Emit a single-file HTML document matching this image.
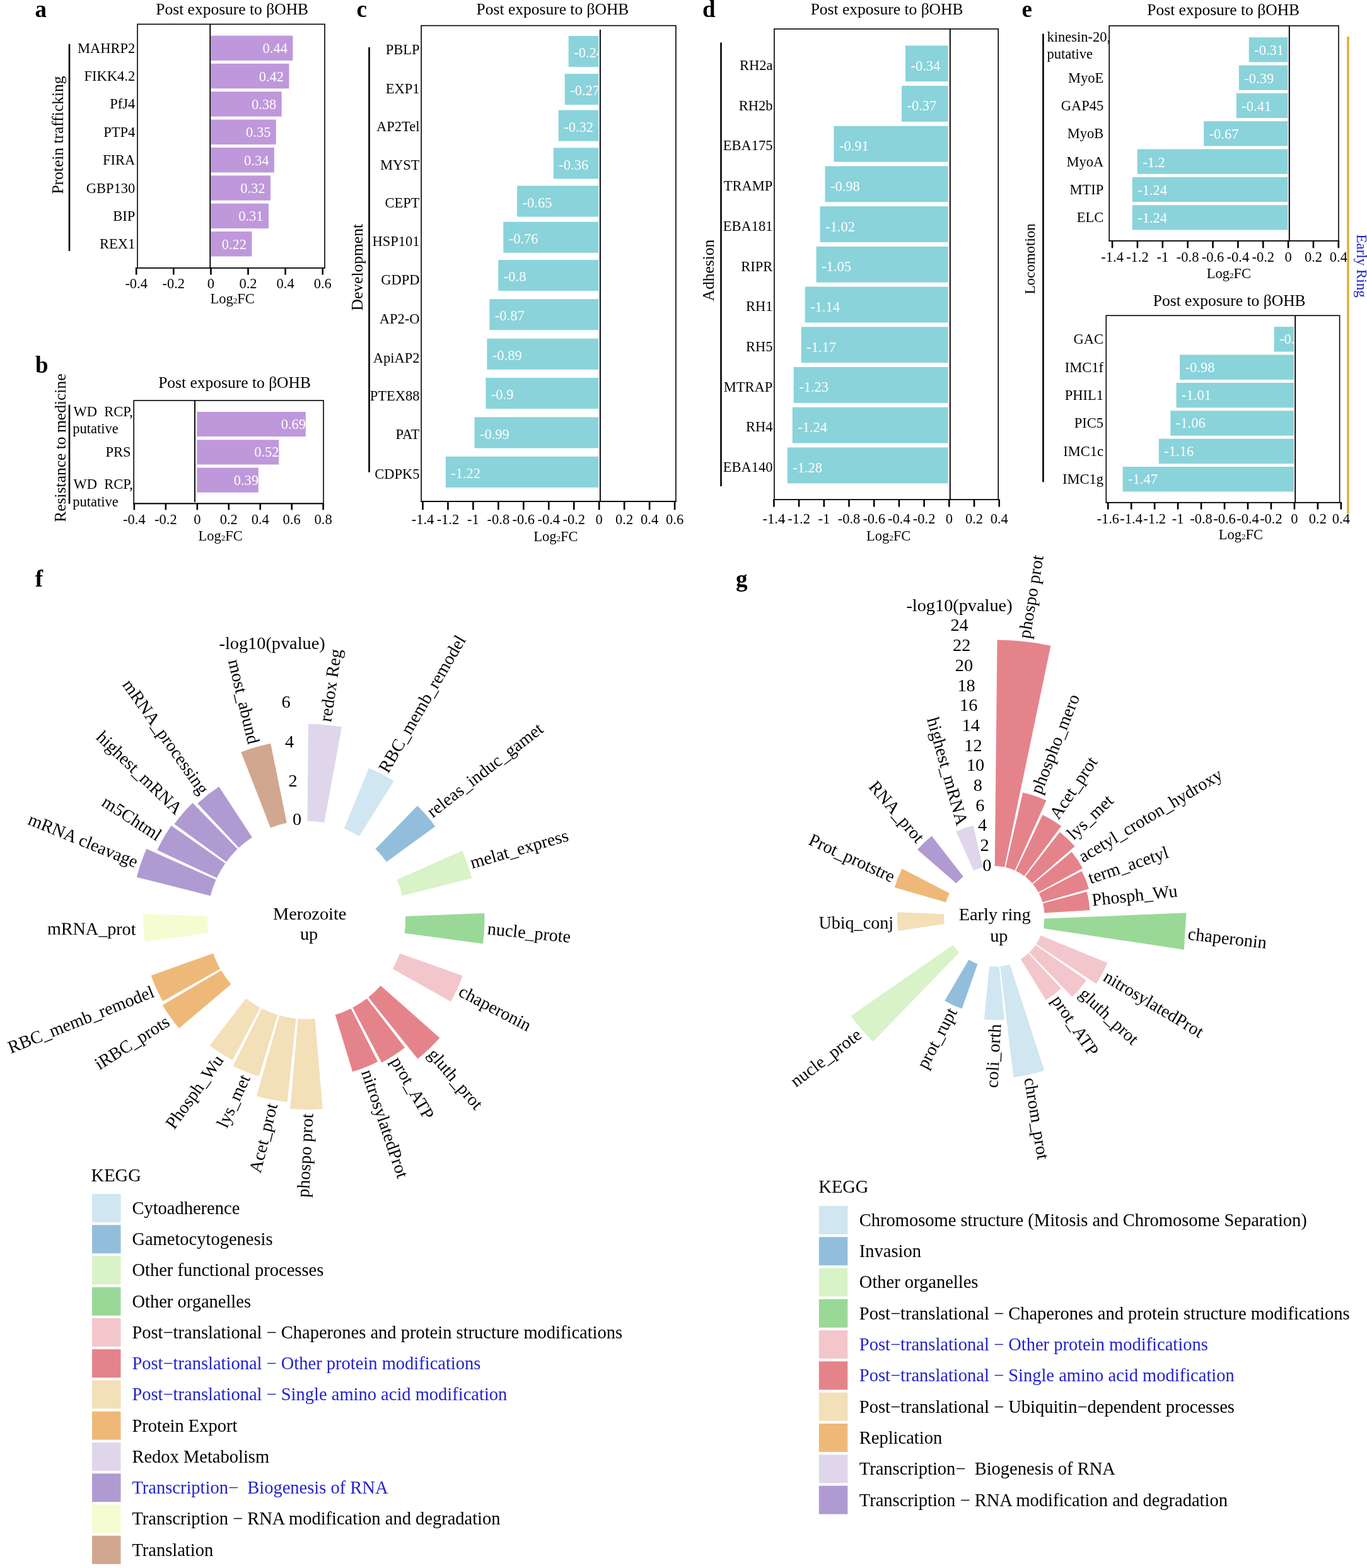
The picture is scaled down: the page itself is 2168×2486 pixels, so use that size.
<!DOCTYPE html>
<html><head><meta charset="utf-8"><title>Figure</title>
<style>html,body{margin:0;padding:0;background:#fff;}svg{display:block;}text{font-family:"Liberation Serif","Times New Roman",serif;}</style>
</head><body>
<svg width="2168" height="2486" viewBox="0 0 2168 2486">
<rect x="334.5" y="56.5" width="129.89" height="39.5" fill="#BF98DB"/>
<rect x="334.5" y="100.86" width="123.98" height="39.5" fill="#BF98DB"/>
<rect x="334.5" y="145.22" width="112.18" height="39.5" fill="#BF98DB"/>
<rect x="334.5" y="189.58" width="103.32" height="39.5" fill="#BF98DB"/>
<rect x="334.5" y="233.94" width="100.37" height="39.5" fill="#BF98DB"/>
<rect x="334.5" y="278.3" width="94.46" height="39.5" fill="#BF98DB"/>
<rect x="334.5" y="322.66" width="91.51" height="39.5" fill="#BF98DB"/>
<rect x="334.5" y="367.02" width="64.94" height="39.5" fill="#BF98DB"/>
<text x="455.99" y="84.3" font-size="22.5" text-anchor="end" fill="#fff">0.44</text>
<text x="450.08" y="128.66" font-size="22.5" text-anchor="end" fill="#fff">0.42</text>
<text x="438.28" y="173.02" font-size="22.5" text-anchor="end" fill="#fff">0.38</text>
<text x="429.42" y="217.38" font-size="22.5" text-anchor="end" fill="#fff">0.35</text>
<text x="426.47" y="261.74" font-size="22.5" text-anchor="end" fill="#fff">0.34</text>
<text x="420.56" y="306.1" font-size="22.5" text-anchor="end" fill="#fff">0.32</text>
<text x="417.61" y="350.46" font-size="22.5" text-anchor="end" fill="#fff">0.31</text>
<text x="391.04" y="394.82" font-size="22.5" text-anchor="end" fill="#fff">0.22</text>
<rect x="218" y="38.4" width="297" height="386.4" fill="none" stroke="#000" stroke-width="1.6"/>
<line x1="333.3" y1="38.4" x2="333.3" y2="424.8" stroke="#000" stroke-width="1.9"/>
<line x1="214.9" y1="424.8" x2="515.8" y2="424.8" stroke="#000" stroke-width="1.6"/>
<line x1="216.2" y1="424.8" x2="216.2" y2="435.6" stroke="#000" stroke-width="2.6"/>
<text x="216.2" y="457.4" font-size="22.5" text-anchor="middle">-0.4</text>
<line x1="275.3" y1="424.8" x2="275.3" y2="435.6" stroke="#000" stroke-width="2.6"/>
<text x="275.3" y="457.4" font-size="22.5" text-anchor="middle">-0.2</text>
<line x1="334.4" y1="424.8" x2="334.4" y2="435.6" stroke="#000" stroke-width="2.6"/>
<text x="334.4" y="457.4" font-size="22.5" text-anchor="middle">0</text>
<line x1="393.5" y1="424.8" x2="393.5" y2="435.6" stroke="#000" stroke-width="2.6"/>
<text x="393.5" y="457.4" font-size="22.5" text-anchor="middle">0.2</text>
<line x1="452.6" y1="424.8" x2="452.6" y2="435.6" stroke="#000" stroke-width="2.6"/>
<text x="452.6" y="457.4" font-size="22.5" text-anchor="middle">0.4</text>
<line x1="511.7" y1="424.8" x2="511.7" y2="435.6" stroke="#000" stroke-width="2.6"/>
<text x="511.7" y="457.4" font-size="22.5" text-anchor="middle">0.6</text>
<text x="333.4" y="481.3" font-size="22.5">Log<tspan font-size="13">2</tspan>FC</text>
<text x="214.2" y="83.7" font-size="22.5" text-anchor="end">MAHRP2</text>
<text x="214.2" y="128.06" font-size="22.5" text-anchor="end">FIKK4.2</text>
<text x="214.2" y="172.42" font-size="22.5" text-anchor="end">PfJ4</text>
<text x="214.2" y="216.78" font-size="22.5" text-anchor="end">PTP4</text>
<text x="214.2" y="261.14" font-size="22.5" text-anchor="end">FIRA</text>
<text x="214.2" y="305.5" font-size="22.5" text-anchor="end">GBP130</text>
<text x="214.2" y="349.86" font-size="22.5" text-anchor="end">BIP</text>
<text x="214.2" y="394.22" font-size="22.5" text-anchor="end">REX1</text>
<text x="247.3" y="23.2" font-size="25.5">Post exposure to βOHB</text>
<text x="55.5" y="26.5" font-size="37" font-weight="bold">a</text>
<line x1="110" y1="69.7" x2="110" y2="397.9" stroke="#000" stroke-width="2.6"/>
<text x="99.5" y="214" font-size="25.5" text-anchor="middle" transform="rotate(-90 99.5 214)">Protein trafficking</text>
<rect x="312.3" y="652.9" width="172.5" height="39.2" fill="#BF98DB"/>
<rect x="312.3" y="697.3" width="130" height="39.2" fill="#BF98DB"/>
<rect x="312.3" y="741.5" width="97.5" height="39.2" fill="#BF98DB"/>
<text x="485.1" y="679.95" font-size="22.5" text-anchor="end" fill="#fff">0.69</text>
<text x="442.6" y="724.35" font-size="22.5" text-anchor="end" fill="#fff">0.52</text>
<text x="410.1" y="768.55" font-size="22.5" text-anchor="end" fill="#fff">0.39</text>
<rect x="212.2" y="635" width="300.8" height="163.4" fill="none" stroke="#000" stroke-width="1.6"/>
<line x1="309" y1="635" x2="309" y2="796" stroke="#000" stroke-width="1.9"/>
<line x1="211.4" y1="798.4" x2="513.94" y2="798.4" stroke="#000" stroke-width="1.6"/>
<line x1="212.88" y1="798.4" x2="212.88" y2="808.4" stroke="#000" stroke-width="2.6"/>
<text x="212.88" y="830.8" font-size="22.5" text-anchor="middle">-0.4</text>
<line x1="262.84" y1="798.4" x2="262.84" y2="808.4" stroke="#000" stroke-width="2.6"/>
<text x="262.84" y="830.8" font-size="22.5" text-anchor="middle">-0.2</text>
<line x1="312.8" y1="798.4" x2="312.8" y2="808.4" stroke="#000" stroke-width="2.6"/>
<text x="312.8" y="830.8" font-size="22.5" text-anchor="middle">0</text>
<line x1="362.76" y1="798.4" x2="362.76" y2="808.4" stroke="#000" stroke-width="2.6"/>
<text x="362.76" y="830.8" font-size="22.5" text-anchor="middle">0.2</text>
<line x1="412.72" y1="798.4" x2="412.72" y2="808.4" stroke="#000" stroke-width="2.6"/>
<text x="412.72" y="830.8" font-size="22.5" text-anchor="middle">0.4</text>
<line x1="462.68" y1="798.4" x2="462.68" y2="808.4" stroke="#000" stroke-width="2.6"/>
<text x="462.68" y="830.8" font-size="22.5" text-anchor="middle">0.6</text>
<line x1="512.64" y1="798.4" x2="512.64" y2="808.4" stroke="#000" stroke-width="2.6"/>
<text x="512.64" y="830.8" font-size="22.5" text-anchor="middle">0.8</text>
<text x="314.6" y="857.2" font-size="22.5">Log<tspan font-size="13">2</tspan>FC</text>
<text x="207.6" y="724.35" font-size="22.5" text-anchor="end">PRS</text>
<text x="251.2" y="615.2" font-size="25.5">Post exposure to βOHB</text>
<text x="56" y="591" font-size="37" font-weight="bold">b</text>
<text x="116.5" y="659.6" font-size="22.5">WD&#160;&#160;RCP,</text>
<text x="115.2" y="687" font-size="22.5">putative</text>
<text x="116.5" y="775.1" font-size="22.5">WD&#160;&#160;RCP,</text>
<text x="115.2" y="802.6" font-size="22.5">putative</text>
<line x1="110" y1="641.6" x2="110" y2="798.7" stroke="#000" stroke-width="2.6"/>
<text x="104" y="710.1" font-size="25.5" text-anchor="middle" transform="rotate(-90 104 710.1)">Resistance to medicine</text>
<rect x="901.66" y="57" width="47.74" height="49.1" fill="#8AD3DB"/>
<rect x="895.7" y="117" width="53.7" height="49.1" fill="#8AD3DB"/>
<rect x="885.75" y="174.6" width="63.65" height="49.1" fill="#8AD3DB"/>
<rect x="877.8" y="234.4" width="71.6" height="49.1" fill="#8AD3DB"/>
<rect x="820.12" y="294.5" width="129.28" height="49.1" fill="#8AD3DB"/>
<rect x="798.24" y="351.7" width="151.16" height="49.1" fill="#8AD3DB"/>
<rect x="790.28" y="412.1" width="159.12" height="49.1" fill="#8AD3DB"/>
<rect x="776.36" y="474.2" width="173.04" height="49.1" fill="#8AD3DB"/>
<rect x="772.38" y="536.8" width="177.02" height="49.1" fill="#8AD3DB"/>
<rect x="770.39" y="598.9" width="179.01" height="49.1" fill="#8AD3DB"/>
<rect x="752.49" y="661.4" width="196.91" height="49.1" fill="#8AD3DB"/>
<rect x="706.74" y="723.8" width="242.66" height="49.1" fill="#8AD3DB"/>
<text x="910.16" y="91.2" font-size="22.5" fill="#fff">-0.24</text>
<text x="904.2" y="151.2" font-size="22.5" fill="#fff">-0.27</text>
<text x="894.25" y="208.8" font-size="22.5" fill="#fff">-0.32</text>
<text x="886.3" y="268.6" font-size="22.5" fill="#fff">-0.36</text>
<text x="828.62" y="328.7" font-size="22.5" fill="#fff">-0.65</text>
<text x="806.74" y="385.9" font-size="22.5" fill="#fff">-0.76</text>
<text x="798.78" y="446.3" font-size="22.5" fill="#fff">-0.8</text>
<text x="784.86" y="508.4" font-size="22.5" fill="#fff">-0.87</text>
<text x="780.88" y="571" font-size="22.5" fill="#fff">-0.89</text>
<text x="778.89" y="633.1" font-size="22.5" fill="#fff">-0.9</text>
<text x="760.99" y="695.6" font-size="22.5" fill="#fff">-0.99</text>
<text x="715.24" y="758" font-size="22.5" fill="#fff">-1.22</text>
<rect x="668.1" y="40.6" width="403.8" height="754.4" fill="none" stroke="#000" stroke-width="1.6"/>
<line x1="951.9" y1="46.9" x2="951.9" y2="795" stroke="#000" stroke-width="1.9"/>
<line x1="667.3" y1="795" x2="1072.7" y2="795" stroke="#000" stroke-width="1.6"/>
<line x1="670.48" y1="795" x2="670.48" y2="808.3" stroke="#000" stroke-width="2.6"/>
<text x="670.48" y="830.6" font-size="22.5" text-anchor="middle">-1.4</text>
<line x1="710.44" y1="795" x2="710.44" y2="808.3" stroke="#000" stroke-width="2.6"/>
<text x="710.44" y="830.6" font-size="22.5" text-anchor="middle">-1.2</text>
<line x1="750.4" y1="795" x2="750.4" y2="808.3" stroke="#000" stroke-width="2.6"/>
<text x="750.4" y="830.6" font-size="22.5" text-anchor="middle">-1</text>
<line x1="790.36" y1="795" x2="790.36" y2="808.3" stroke="#000" stroke-width="2.6"/>
<text x="790.36" y="830.6" font-size="22.5" text-anchor="middle">-0.8</text>
<line x1="830.32" y1="795" x2="830.32" y2="808.3" stroke="#000" stroke-width="2.6"/>
<text x="830.32" y="830.6" font-size="22.5" text-anchor="middle">-0.6</text>
<line x1="870.28" y1="795" x2="870.28" y2="808.3" stroke="#000" stroke-width="2.6"/>
<text x="870.28" y="830.6" font-size="22.5" text-anchor="middle">-0.4</text>
<line x1="910.24" y1="795" x2="910.24" y2="808.3" stroke="#000" stroke-width="2.6"/>
<text x="910.24" y="830.6" font-size="22.5" text-anchor="middle">-0.2</text>
<line x1="950.2" y1="795" x2="950.2" y2="808.3" stroke="#000" stroke-width="2.6"/>
<text x="950.2" y="830.6" font-size="22.5" text-anchor="middle">0</text>
<line x1="990.16" y1="795" x2="990.16" y2="808.3" stroke="#000" stroke-width="2.6"/>
<text x="990.16" y="830.6" font-size="22.5" text-anchor="middle">0.2</text>
<line x1="1030.12" y1="795" x2="1030.12" y2="808.3" stroke="#000" stroke-width="2.6"/>
<text x="1030.12" y="830.6" font-size="22.5" text-anchor="middle">0.4</text>
<line x1="1070.08" y1="795" x2="1070.08" y2="808.3" stroke="#000" stroke-width="2.6"/>
<text x="1070.08" y="830.6" font-size="22.5" text-anchor="middle">0.6</text>
<text x="846.3" y="857.8" font-size="22.5">Log<tspan font-size="13">2</tspan>FC</text>
<text x="665.5" y="85.55" font-size="22.5" text-anchor="end">PBLP</text>
<text x="665.5" y="147.65" font-size="22.5" text-anchor="end">EXP1</text>
<text x="665.5" y="208.35" font-size="22.5" text-anchor="end">AP2Tel</text>
<text x="665.5" y="269.05" font-size="22.5" text-anchor="end">MYST</text>
<text x="665.5" y="329.25" font-size="22.5" text-anchor="end">CEPT</text>
<text x="665.5" y="389.85" font-size="22.5" text-anchor="end">HSP101</text>
<text x="665.5" y="451.45" font-size="22.5" text-anchor="end">GDPD</text>
<text x="665.5" y="513.45" font-size="22.5" text-anchor="end">AP2-O</text>
<text x="665.5" y="574.95" font-size="22.5" text-anchor="end">ApiAP2</text>
<text x="665.5" y="635.45" font-size="22.5" text-anchor="end">PTEX88</text>
<text x="665.5" y="695.85" font-size="22.5" text-anchor="end">PAT</text>
<text x="665.5" y="758.95" font-size="22.5" text-anchor="end">CDPK5</text>
<text x="755.6" y="23.2" font-size="25.5">Post exposure to βOHB</text>
<text x="565.6" y="26.5" font-size="37" font-weight="bold">c</text>
<line x1="585.5" y1="75" x2="585.5" y2="748.8" stroke="#000" stroke-width="2.6"/>
<text x="574.7" y="423.7" font-size="25.5" text-anchor="middle" transform="rotate(-90 574.7 423.7)">Development</text>
<rect x="1435.91" y="72.3" width="67.69" height="56.9" fill="#8AD3DB"/>
<rect x="1429.93" y="136.01" width="73.67" height="56.9" fill="#8AD3DB"/>
<rect x="1322.42" y="199.72" width="181.18" height="56.9" fill="#8AD3DB"/>
<rect x="1308.48" y="263.43" width="195.12" height="56.9" fill="#8AD3DB"/>
<rect x="1300.52" y="327.14" width="203.08" height="56.9" fill="#8AD3DB"/>
<rect x="1294.54" y="390.85" width="209.06" height="56.9" fill="#8AD3DB"/>
<rect x="1276.63" y="454.56" width="226.97" height="56.9" fill="#8AD3DB"/>
<rect x="1270.65" y="518.27" width="232.95" height="56.9" fill="#8AD3DB"/>
<rect x="1258.71" y="581.98" width="244.89" height="56.9" fill="#8AD3DB"/>
<rect x="1256.72" y="645.69" width="246.88" height="56.9" fill="#8AD3DB"/>
<rect x="1248.75" y="709.4" width="254.85" height="56.9" fill="#8AD3DB"/>
<text x="1444.41" y="111.7" font-size="22.5" fill="#fff">-0.34</text>
<text x="1438.43" y="175.41" font-size="22.5" fill="#fff">-0.37</text>
<text x="1330.92" y="239.12" font-size="22.5" fill="#fff">-0.91</text>
<text x="1316.98" y="302.83" font-size="22.5" fill="#fff">-0.98</text>
<text x="1309.02" y="366.54" font-size="22.5" fill="#fff">-1.02</text>
<text x="1303.04" y="430.25" font-size="22.5" fill="#fff">-1.05</text>
<text x="1285.13" y="493.96" font-size="22.5" fill="#fff">-1.14</text>
<text x="1279.15" y="557.67" font-size="22.5" fill="#fff">-1.17</text>
<text x="1267.21" y="621.38" font-size="22.5" fill="#fff">-1.23</text>
<text x="1265.22" y="685.09" font-size="22.5" fill="#fff">-1.24</text>
<text x="1257.25" y="748.8" font-size="22.5" fill="#fff">-1.28</text>
<rect x="1227.9" y="45.9" width="355.3" height="746.3" fill="none" stroke="#000" stroke-width="1.6"/>
<line x1="1506.8" y1="45.9" x2="1506.8" y2="792.2" stroke="#000" stroke-width="1.9"/>
<line x1="1226.1" y1="792.2" x2="1586" y2="792.2" stroke="#000" stroke-width="1.6"/>
<line x1="1227.4" y1="792.2" x2="1227.4" y2="803.6" stroke="#000" stroke-width="2.6"/>
<text x="1227.4" y="829.7" font-size="22.5" text-anchor="middle">-1.4</text>
<line x1="1267.1" y1="792.2" x2="1267.1" y2="803.6" stroke="#000" stroke-width="2.6"/>
<text x="1267.1" y="829.7" font-size="22.5" text-anchor="middle">-1.2</text>
<line x1="1306.8" y1="792.2" x2="1306.8" y2="803.6" stroke="#000" stroke-width="2.6"/>
<text x="1306.8" y="829.7" font-size="22.5" text-anchor="middle">-1</text>
<line x1="1346.5" y1="792.2" x2="1346.5" y2="803.6" stroke="#000" stroke-width="2.6"/>
<text x="1346.5" y="829.7" font-size="22.5" text-anchor="middle">-0.8</text>
<line x1="1386.2" y1="792.2" x2="1386.2" y2="803.6" stroke="#000" stroke-width="2.6"/>
<text x="1386.2" y="829.7" font-size="22.5" text-anchor="middle">-0.6</text>
<line x1="1425.9" y1="792.2" x2="1425.9" y2="803.6" stroke="#000" stroke-width="2.6"/>
<text x="1425.9" y="829.7" font-size="22.5" text-anchor="middle">-0.4</text>
<line x1="1465.6" y1="792.2" x2="1465.6" y2="803.6" stroke="#000" stroke-width="2.6"/>
<text x="1465.6" y="829.7" font-size="22.5" text-anchor="middle">-0.2</text>
<line x1="1505.3" y1="792.2" x2="1505.3" y2="803.6" stroke="#000" stroke-width="2.6"/>
<text x="1505.3" y="829.7" font-size="22.5" text-anchor="middle">0</text>
<line x1="1545" y1="792.2" x2="1545" y2="803.6" stroke="#000" stroke-width="2.6"/>
<text x="1545" y="829.7" font-size="22.5" text-anchor="middle">0.2</text>
<line x1="1584.7" y1="792.2" x2="1584.7" y2="803.6" stroke="#000" stroke-width="2.6"/>
<text x="1584.7" y="829.7" font-size="22.5" text-anchor="middle">0.4</text>
<text x="1374" y="856.7" font-size="22.5">Log<tspan font-size="13">2</tspan>FC</text>
<text x="1225.4" y="111" font-size="22.5" text-anchor="end">RH2a</text>
<text x="1225.4" y="174.71" font-size="22.5" text-anchor="end">RH2b</text>
<text x="1225.4" y="238.42" font-size="22.5" text-anchor="end">EBA175</text>
<text x="1225.4" y="302.13" font-size="22.5" text-anchor="end">TRAMP</text>
<text x="1225.4" y="365.84" font-size="22.5" text-anchor="end">EBA181</text>
<text x="1225.4" y="429.55" font-size="22.5" text-anchor="end">RIPR</text>
<text x="1225.4" y="493.26" font-size="22.5" text-anchor="end">RH1</text>
<text x="1225.4" y="556.97" font-size="22.5" text-anchor="end">RH5</text>
<text x="1225.4" y="620.68" font-size="22.5" text-anchor="end">MTRAP</text>
<text x="1225.4" y="684.39" font-size="22.5" text-anchor="end">RH4</text>
<text x="1225.4" y="748.1" font-size="22.5" text-anchor="end">EBA140</text>
<text x="1285.7" y="23" font-size="25.5">Post exposure to βOHB</text>
<text x="1113.9" y="26.7" font-size="37" font-weight="bold">d</text>
<line x1="1143.5" y1="67.4" x2="1143.5" y2="771" stroke="#000" stroke-width="2.6"/>
<text x="1132.2" y="428.5" font-size="25.5" text-anchor="middle" transform="rotate(-90 1132.2 428.5)">Adhesion</text>
<rect x="1980.74" y="59.2" width="61.66" height="39.3" fill="#8AD3DB"/>
<rect x="1964.83" y="103.53" width="77.57" height="39.3" fill="#8AD3DB"/>
<rect x="1960.85" y="147.86" width="81.55" height="39.3" fill="#8AD3DB"/>
<rect x="1909.14" y="192.19" width="133.26" height="39.3" fill="#8AD3DB"/>
<rect x="1803.72" y="236.52" width="238.68" height="39.3" fill="#8AD3DB"/>
<rect x="1795.76" y="280.85" width="246.64" height="39.3" fill="#8AD3DB"/>
<rect x="1795.76" y="325.18" width="246.64" height="39.3" fill="#8AD3DB"/>
<text x="1989.24" y="87.3" font-size="22.5" fill="#fff">-0.31</text>
<text x="1973.33" y="131.63" font-size="22.5" fill="#fff">-0.39</text>
<text x="1969.35" y="175.96" font-size="22.5" fill="#fff">-0.41</text>
<text x="1917.64" y="220.29" font-size="22.5" fill="#fff">-0.67</text>
<text x="1812.22" y="264.62" font-size="22.5" fill="#fff">-1.2</text>
<text x="1804.26" y="308.95" font-size="22.5" fill="#fff">-1.24</text>
<text x="1804.26" y="353.28" font-size="22.5" fill="#fff">-1.24</text>
<rect x="1759.2" y="40.9" width="363.8" height="340.9" fill="none" stroke="#000" stroke-width="1.6"/>
<line x1="2044.8" y1="40.9" x2="2044.8" y2="381.8" stroke="#000" stroke-width="1.9"/>
<line x1="1758.4" y1="381.8" x2="2124.12" y2="381.8" stroke="#000" stroke-width="1.6"/>
<line x1="1764.08" y1="381.8" x2="1764.08" y2="393.3" stroke="#000" stroke-width="2.6"/>
<text x="1764.08" y="414.6" font-size="22.5" text-anchor="middle">-1.4</text>
<line x1="1803.94" y1="381.8" x2="1803.94" y2="393.3" stroke="#000" stroke-width="2.6"/>
<text x="1803.94" y="414.6" font-size="22.5" text-anchor="middle">-1.2</text>
<line x1="1843.8" y1="381.8" x2="1843.8" y2="393.3" stroke="#000" stroke-width="2.6"/>
<text x="1843.8" y="414.6" font-size="22.5" text-anchor="middle">-1</text>
<line x1="1883.66" y1="381.8" x2="1883.66" y2="393.3" stroke="#000" stroke-width="2.6"/>
<text x="1883.66" y="414.6" font-size="22.5" text-anchor="middle">-0.8</text>
<line x1="1923.52" y1="381.8" x2="1923.52" y2="393.3" stroke="#000" stroke-width="2.6"/>
<text x="1923.52" y="414.6" font-size="22.5" text-anchor="middle">-0.6</text>
<line x1="1963.38" y1="381.8" x2="1963.38" y2="393.3" stroke="#000" stroke-width="2.6"/>
<text x="1963.38" y="414.6" font-size="22.5" text-anchor="middle">-0.4</text>
<line x1="2003.24" y1="381.8" x2="2003.24" y2="393.3" stroke="#000" stroke-width="2.6"/>
<text x="2003.24" y="414.6" font-size="22.5" text-anchor="middle">-0.2</text>
<line x1="2043.1" y1="381.8" x2="2043.1" y2="393.3" stroke="#000" stroke-width="2.6"/>
<text x="2043.1" y="414.6" font-size="22.5" text-anchor="middle">0</text>
<line x1="2082.96" y1="381.8" x2="2082.96" y2="393.3" stroke="#000" stroke-width="2.6"/>
<text x="2082.96" y="414.6" font-size="22.5" text-anchor="middle">0.2</text>
<line x1="2122.82" y1="381.8" x2="2122.82" y2="393.3" stroke="#000" stroke-width="2.6"/>
<text x="2122.82" y="414.6" font-size="22.5" text-anchor="middle">0.4</text>
<text x="1913.8" y="440.6" font-size="22.5">Log<tspan font-size="13">2</tspan>FC</text>
<text x="1750.2" y="130.63" font-size="22.5" text-anchor="end">MyoE</text>
<text x="1750.2" y="174.96" font-size="22.5" text-anchor="end">GAP45</text>
<text x="1750.2" y="219.29" font-size="22.5" text-anchor="end">MyoB</text>
<text x="1750.2" y="263.62" font-size="22.5" text-anchor="end">MyoA</text>
<text x="1750.2" y="307.95" font-size="22.5" text-anchor="end">MTIP</text>
<text x="1750.2" y="352.28" font-size="22.5" text-anchor="end">ELC</text>
<text x="1819.3" y="23.6" font-size="25.5">Post exposure to βOHB</text>
<text x="1620.6" y="26.9" font-size="37" font-weight="bold">e</text>
<text x="1660.6" y="66.2" font-size="22.5">kinesin-20,</text>
<text x="1660.6" y="92.7" font-size="22.5">putative</text>
<rect x="2020.62" y="518.1" width="31.38" height="39.5" fill="#8AD3DB"/>
<rect x="1871.09" y="562.48" width="180.91" height="39.5" fill="#8AD3DB"/>
<rect x="1865.55" y="606.86" width="186.45" height="39.5" fill="#8AD3DB"/>
<rect x="1856.32" y="651.24" width="195.68" height="39.5" fill="#8AD3DB"/>
<rect x="1837.86" y="695.62" width="214.14" height="39.5" fill="#8AD3DB"/>
<rect x="1780.64" y="740" width="271.36" height="39.5" fill="#8AD3DB"/>
<text x="2029.12" y="545.3" font-size="22.5" fill="#fff">-0.17</text>
<text x="1879.59" y="589.68" font-size="22.5" fill="#fff">-0.98</text>
<text x="1874.05" y="634.06" font-size="22.5" fill="#fff">-1.01</text>
<text x="1864.82" y="678.44" font-size="22.5" fill="#fff">-1.06</text>
<text x="1846.36" y="722.82" font-size="22.5" fill="#fff">-1.16</text>
<text x="1789.14" y="767.2" font-size="22.5" fill="#fff">-1.47</text>
<rect x="1754.3" y="500.3" width="370.3" height="296.4" fill="none" stroke="#000" stroke-width="1.6"/>
<line x1="2054.2" y1="500.3" x2="2054.2" y2="796.7" stroke="#000" stroke-width="1.9"/>
<line x1="1753.5" y1="796.7" x2="2128.12" y2="796.7" stroke="#000" stroke-width="1.6"/>
<line x1="1757.22" y1="796.7" x2="1757.22" y2="807.6" stroke="#000" stroke-width="2.6"/>
<text x="1757.22" y="829.8" font-size="22.5" text-anchor="middle">-1.6</text>
<line x1="1794.18" y1="796.7" x2="1794.18" y2="807.6" stroke="#000" stroke-width="2.6"/>
<text x="1794.18" y="829.8" font-size="22.5" text-anchor="middle">-1.4</text>
<line x1="1831.14" y1="796.7" x2="1831.14" y2="807.6" stroke="#000" stroke-width="2.6"/>
<text x="1831.14" y="829.8" font-size="22.5" text-anchor="middle">-1.2</text>
<line x1="1868.1" y1="796.7" x2="1868.1" y2="807.6" stroke="#000" stroke-width="2.6"/>
<text x="1868.1" y="829.8" font-size="22.5" text-anchor="middle">-1</text>
<line x1="1905.06" y1="796.7" x2="1905.06" y2="807.6" stroke="#000" stroke-width="2.6"/>
<text x="1905.06" y="829.8" font-size="22.5" text-anchor="middle">-0.8</text>
<line x1="1942.02" y1="796.7" x2="1942.02" y2="807.6" stroke="#000" stroke-width="2.6"/>
<text x="1942.02" y="829.8" font-size="22.5" text-anchor="middle">-0.6</text>
<line x1="1978.98" y1="796.7" x2="1978.98" y2="807.6" stroke="#000" stroke-width="2.6"/>
<text x="1978.98" y="829.8" font-size="22.5" text-anchor="middle">-0.4</text>
<line x1="2015.94" y1="796.7" x2="2015.94" y2="807.6" stroke="#000" stroke-width="2.6"/>
<text x="2015.94" y="829.8" font-size="22.5" text-anchor="middle">-0.2</text>
<line x1="2052.9" y1="796.7" x2="2052.9" y2="807.6" stroke="#000" stroke-width="2.6"/>
<text x="2052.9" y="829.8" font-size="22.5" text-anchor="middle">0</text>
<line x1="2089.86" y1="796.7" x2="2089.86" y2="807.6" stroke="#000" stroke-width="2.6"/>
<text x="2089.86" y="829.8" font-size="22.5" text-anchor="middle">0.2</text>
<line x1="2126.82" y1="796.7" x2="2126.82" y2="807.6" stroke="#000" stroke-width="2.6"/>
<text x="2126.82" y="829.8" font-size="22.5" text-anchor="middle">0.4</text>
<text x="1932.8" y="855.2" font-size="22.5">Log<tspan font-size="13">2</tspan>FC</text>
<text x="1750.1" y="545.3" font-size="22.5" text-anchor="end">GAC</text>
<text x="1750.1" y="589.68" font-size="22.5" text-anchor="end">IMC1f</text>
<text x="1750.1" y="634.06" font-size="22.5" text-anchor="end">PHIL1</text>
<text x="1750.1" y="678.44" font-size="22.5" text-anchor="end">PIC5</text>
<text x="1750.1" y="722.82" font-size="22.5" text-anchor="end">IMC1c</text>
<text x="1750.1" y="767.2" font-size="22.5" text-anchor="end">IMC1g</text>
<text x="1828.8" y="485" font-size="25.5">Post exposure to βOHB</text>
<line x1="1654.4" y1="53.6" x2="1654.4" y2="764.2" stroke="#000" stroke-width="2.6"/>
<text x="1641.3" y="410.4" font-size="23" text-anchor="middle" transform="rotate(-90 1641.3 410.4)">Locomotion</text>
<line x1="2138" y1="58" x2="2138" y2="814" stroke="#DDB040" stroke-width="3.7"/>
<text x="2151.5" y="421.6" font-size="23" text-anchor="middle" fill="#2020D0" transform="rotate(90 2151.5 421.6)">Early Ring</text>
<path d="M487.49 1301.71A157 157 0 0 1 514.24 1304.26L541.95 1152.77A311 311 0 0 0 488.96 1147.71Z" fill="#DFD6EB"/>
<path d="M545.74 1313.51A157 157 0 0 1 569.62 1325.82L624.74 1238.22A260.5 260.5 0 0 0 585.12 1217.79Z" fill="#D0E6F0"/>
<path d="M595.42 1346.11A157 157 0 0 1 613.02 1366.42L690.28 1310.28A252.5 252.5 0 0 0 661.98 1277.62Z" fill="#93BEDB"/>
<path d="M629.43 1394.84A157 157 0 0 1 638.22 1420.24L748.26 1392.43A270.5 270.5 0 0 0 733.11 1348.68Z" fill="#D8F3C7"/>
<path d="M642.89 1452.72A157 157 0 0 1 641.61 1479.56L765.99 1496.24A282.5 282.5 0 0 0 768.3 1447.95Z" fill="#9AD898"/>
<path d="M633.87 1511.46A157 157 0 0 1 622.71 1535.9L715.01 1588.03A263 263 0 0 0 733.71 1547.08Z" fill="#F3C6CC"/>
<path d="M603.67 1562.64A157 157 0 0 1 584.22 1581.18L662.42 1678.7A282 282 0 0 0 697.35 1645.39Z" fill="#E5838B"/>
<path d="M581.87 1583.03A157 157 0 0 1 559.27 1597.56L605.23 1684.67A255.5 255.5 0 0 0 642.02 1661.03Z" fill="#E5838B"/>
<path d="M556.61 1598.93A157 157 0 0 1 531.66 1608.91L559.15 1699.33A251.5 251.5 0 0 0 599.11 1683.33Z" fill="#E5838B"/>
<path d="M499.44 1615.12A157 157 0 0 1 472.56 1615.12L460.28 1758.1A300.5 300.5 0 0 0 511.72 1758.1Z" fill="#F3DFB8"/>
<path d="M469.59 1614.84A157 157 0 0 1 443.2 1609.75L406.95 1737.72A290 290 0 0 0 455.69 1747.11Z" fill="#F3DFB8"/>
<path d="M440.34 1608.91A157 157 0 0 1 415.39 1598.93L369.52 1690.03A259 259 0 0 0 410.67 1706.5Z" fill="#F3DFB8"/>
<path d="M412.73 1597.56A157 157 0 0 1 390.13 1583.03L332.73 1657.47A251 251 0 0 0 368.87 1680.69Z" fill="#F3DFB8"/>
<path d="M366.37 1560.38A157 157 0 0 1 350.79 1538.49L257.78 1593.38A265 265 0 0 0 284.08 1630.32Z" fill="#EEB978"/>
<path d="M349.29 1535.9A157 157 0 0 1 338.13 1511.46L239.52 1546.64A261.7 261.7 0 0 0 258.13 1587.39Z" fill="#EEB978"/>
<path d="M330.39 1479.56A157 157 0 0 1 329.11 1452.72L227.39 1448.85A258.8 258.8 0 0 0 229.5 1493.09Z" fill="#F5FCD2"/>
<path d="M333.78 1420.24A157 157 0 0 1 342.57 1394.84L232.4 1345.79A277.6 277.6 0 0 0 216.86 1390.69Z" fill="#AF9BD1"/>
<path d="M343.82 1392.12A157 157 0 0 1 357.25 1368.85L271.64 1309.11A261.4 261.4 0 0 0 249.27 1347.85Z" fill="#AF9BD1"/>
<path d="M358.98 1366.42A157 157 0 0 1 376.58 1346.11L305.49 1272.96A259 259 0 0 0 276.46 1306.46Z" fill="#AF9BD1"/>
<path d="M378.74 1344.05A157 157 0 0 1 399.87 1327.44L347.31 1247.34A252.8 252.8 0 0 0 313.3 1274.09Z" fill="#AF9BD1"/>
<path d="M429.04 1312.4A157 157 0 0 1 454.82 1304.83L429.26 1178.69A285.7 285.7 0 0 0 382.35 1192.47Z" fill="#D2A78F"/>
<text x="516.04" y="1144.13" font-size="28.1" text-anchor="start" dy="0.32em" transform="rotate(-81.55 516.04 1144.13)">redox Reg</text>
<text x="607.66" y="1222.71" font-size="28.1" text-anchor="start" dy="0.32em" transform="rotate(-59.73 607.66 1222.71)">RBC_memb_remodel</text>
<text x="680.61" y="1290.07" font-size="28.1" text-anchor="start" dy="0.32em" transform="rotate(-37.91 680.61 1290.07)">releas_induc_gamet</text>
<text x="746.35" y="1368.59" font-size="28.1" text-anchor="start" dy="0.32em" transform="rotate(-16.09 746.35 1368.59)">melat_express</text>
<text x="773.17" y="1472.38" font-size="28.1" text-anchor="start" dy="0.32em" transform="rotate(5.73 773.17 1472.38)">nucle_prote</text>
<text x="729.78" y="1570.03" font-size="28.1" text-anchor="start" dy="0.32em" transform="rotate(27.55 729.78 1570.03)">chaperonin</text>
<text x="684.05" y="1666.41" font-size="28.1" text-anchor="start" dy="0.32em" transform="rotate(49.36 684.05 1666.41)">gluth_prot</text>
<text x="626.84" y="1677.85" font-size="28.1" text-anchor="start" dy="0.32em" transform="rotate(60.27 626.84 1677.85)">prot_ATP</text>
<text x="581.33" y="1696.83" font-size="28.1" text-anchor="start" dy="0.32em" transform="rotate(71.18 581.33 1696.83)">nitrosylatedProt</text>
<text x="486" y="1765.2" font-size="28.1" text-anchor="end" dy="0.38em" transform="rotate(-87 486 1765.2)">phospo prot</text>
<text x="429.98" y="1749.35" font-size="28.1" text-anchor="end" dy="0.38em" transform="rotate(-76.09 429.98 1749.35)">Acet_prot</text>
<text x="387.51" y="1704.72" font-size="28.1" text-anchor="end" dy="0.38em" transform="rotate(-65.18 387.51 1704.72)">lys_met</text>
<text x="347.06" y="1674.9" font-size="28.1" text-anchor="end" dy="0.38em" transform="rotate(-54.27 347.06 1674.9)">Phosph_Wu</text>
<text x="265.25" y="1615.9" font-size="28.1" text-anchor="end" dy="0.38em" transform="rotate(-32.45 265.25 1615.9)">iRBC_prots</text>
<text x="242.49" y="1569.91" font-size="28.1" text-anchor="end" dy="0.38em" transform="rotate(-21.55 242.49 1569.91)">RBC_memb_remodel</text>
<text x="215.51" y="1471.59" font-size="28.1" text-anchor="end" dy="0.38em" transform="rotate(0.27 215.51 1471.59)">mRNA_prot</text>
<text x="218" y="1365.94" font-size="28.1" text-anchor="end" dy="0.38em" transform="rotate(22.09 218 1365.94)">mRNA cleavage</text>
<text x="254.42" y="1325" font-size="28.1" text-anchor="end" dy="0.38em" transform="rotate(33 254.42 1325)">m5Chtml</text>
<text x="285.73" y="1285.16" font-size="28.1" text-anchor="end" dy="0.38em" transform="rotate(43.91 285.73 1285.16)">highest_mRNA</text>
<text x="326.02" y="1255.27" font-size="28.1" text-anchor="end" dy="0.38em" transform="rotate(54.82 326.02 1255.27)">mRNA_processing</text>
<text x="403.82" y="1178.82" font-size="28.1" text-anchor="end" dy="0.38em" transform="rotate(76.64 403.82 1178.82)">most_abund</text>
<text x="471.2" y="1307.97" font-size="28.3" text-anchor="middle">0</text>
<text x="464.5" y="1246.87" font-size="28.3" text-anchor="middle">2</text>
<text x="459.1" y="1184.87" font-size="28.3" text-anchor="middle">4</text>
<text x="453.6" y="1122.17" font-size="28.3" text-anchor="middle">6</text>
<text x="431.6" y="1029" font-size="28.3" text-anchor="middle">-log10(pvalue)</text>
<text x="491.2" y="1457.8" font-size="28.3" text-anchor="middle">Merozoite</text>
<text x="490.1" y="1490.2" font-size="28.3" text-anchor="middle">up</text>
<text x="55.8" y="929.5" font-size="37" font-weight="bold">f</text>
<path d="M1577.66 1373A79.8 79.8 0 0 1 1593.11 1374.68L1666.4 1023.65A438.4 438.4 0 0 0 1581.55 1014.43Z" fill="#E5838B"/>
<path d="M1594.8 1375.06A79.8 79.8 0 0 1 1609.52 1380.02L1659.38 1269.11A201.4 201.4 0 0 0 1622.22 1256.59Z" fill="#E5838B"/>
<path d="M1611.09 1380.74A79.8 79.8 0 0 1 1624.4 1388.75L1683.1 1309.78A178.2 178.2 0 0 0 1653.37 1291.89Z" fill="#E5838B"/>
<path d="M1625.78 1389.8A79.8 79.8 0 0 1 1637.06 1400.48L1704.64 1341.81A169.3 169.3 0 0 0 1680.71 1319.14Z" fill="#E5838B"/>
<path d="M1638.18 1401.8A79.8 79.8 0 0 1 1646.9 1414.66L1717.08 1376.47A159.7 159.7 0 0 0 1699.63 1350.74Z" fill="#E5838B"/>
<path d="M1647.71 1416.19A79.8 79.8 0 0 1 1653.46 1430.62L1726.94 1409.36A156.3 156.3 0 0 0 1715.68 1381.09Z" fill="#E5838B"/>
<path d="M1653.92 1432.29A79.8 79.8 0 0 1 1656.43 1447.62L1728.48 1442.93A152 152 0 0 0 1723.69 1413.72Z" fill="#E5838B"/>
<path d="M1650.61 1483.14A79.8 79.8 0 0 1 1643.33 1496.86L1738.46 1559.87A193.9 193.9 0 0 0 1756.14 1526.52Z" fill="#F3C6CC"/>
<path d="M1642.36 1498.3A79.8 79.8 0 0 1 1632.3 1510.14L1700.46 1580.55A177.8 177.8 0 0 0 1722.87 1554.17Z" fill="#F3C6CC"/>
<path d="M1631.05 1511.33A79.8 79.8 0 0 1 1618.68 1520.73L1658.67 1585.59A156 156 0 0 0 1682.85 1567.21Z" fill="#F3C6CC"/>
<path d="M1601.46 1528.69A79.8 79.8 0 0 1 1586.29 1532.03L1607.35 1707.98A257 257 0 0 0 1656.22 1697.22Z" fill="#D0E6F0"/>
<path d="M1584.57 1532.22A79.8 79.8 0 0 1 1569.03 1532.22L1560.79 1616.52A164.5 164.5 0 0 0 1592.81 1616.52Z" fill="#D0E6F0"/>
<path d="M1550.5 1528.14A79.8 79.8 0 0 1 1536.4 1521.62L1498.23 1586.64A155.2 155.2 0 0 0 1525.65 1599.33Z" fill="#93BEDB"/>
<path d="M1521.3 1510.14A79.8 79.8 0 0 1 1511.24 1498.3L1349.72 1610.38A276.4 276.4 0 0 0 1384.56 1651.39Z" fill="#D8F3C7"/>
<path d="M1497.92 1464.86A79.8 79.8 0 0 1 1497.07 1449.34L1422.94 1446.13A154 154 0 0 0 1424.57 1476.07Z" fill="#F3DFB8"/>
<path d="M1500.14 1430.62A79.8 79.8 0 0 1 1505.89 1416.19L1430.64 1377.33A164.5 164.5 0 0 0 1418.78 1407.08Z" fill="#EEB978"/>
<path d="M1516.54 1400.48A79.8 79.8 0 0 1 1527.82 1389.8L1477.74 1325.38A161.4 161.4 0 0 0 1454.93 1346.99Z" fill="#AF9BD1"/>
<path d="M1544.08 1380.02A79.8 79.8 0 0 1 1558.8 1375.06L1543.53 1309.1A147.5 147.5 0 0 0 1516.32 1318.27Z" fill="#DFD6EB"/>
<text x="1624.74" y="1012" font-size="28.1" text-anchor="start" dy="0.32em" transform="rotate(-80.79 1624.74 1012)">phospo prot</text>
<text x="1642.7" y="1257.2" font-size="28.1" text-anchor="start" dy="0.32em" transform="rotate(-68.38 1642.7 1257.2)">phospho_mero</text>
<text x="1671.25" y="1295.82" font-size="28.1" text-anchor="start" dy="0.32em" transform="rotate(-55.97 1671.25 1295.82)">Acet_prot</text>
<text x="1696.67" y="1326.26" font-size="28.1" text-anchor="start" dy="0.32em" transform="rotate(-43.55 1696.67 1326.26)">lys_met</text>
<text x="1713.12" y="1360.37" font-size="28.1" text-anchor="start" dy="0.32em" transform="rotate(-31.14 1713.12 1360.37)">acetyl_croton_hydroxy</text>
<text x="1726.64" y="1393.1" font-size="28.1" text-anchor="start" dy="0.32em" transform="rotate(-18.72 1726.64 1393.1)">term_acetyl</text>
<text x="1731.73" y="1427.4" font-size="28.1" text-anchor="start" dy="0.32em" transform="rotate(-6.31 1731.73 1427.4)">Phosph_Wu</text>
<text x="1752.53" y="1545.97" font-size="28.1" text-anchor="start" dy="0.32em" transform="rotate(30.93 1752.53 1545.97)">nitrosylatedProt</text>
<text x="1716.12" y="1571.14" font-size="28.1" text-anchor="start" dy="0.32em" transform="rotate(43.34 1716.12 1571.14)">gluth_prot</text>
<text x="1674.23" y="1580.97" font-size="28.1" text-anchor="start" dy="0.32em" transform="rotate(55.76 1674.23 1580.97)">prot_ATP</text>
<text x="1633.12" y="1708.67" font-size="28.1" text-anchor="start" dy="0.32em" transform="rotate(80.59 1633.12 1708.67)">chrom_prot</text>
<text x="1576.8" y="1623.3" font-size="28.1" text-anchor="end" dy="0.38em" transform="rotate(-87 1576.8 1623.3)">coli_orth</text>
<text x="1509.11" y="1599.1" font-size="28.1" text-anchor="end" dy="0.38em" transform="rotate(-62.17 1509.11 1599.1)">prot_rupt</text>
<text x="1361.57" y="1635.62" font-size="28.1" text-anchor="end" dy="0.38em" transform="rotate(-37.34 1361.57 1635.62)">nucle_prote</text>
<text x="1417.03" y="1461.46" font-size="28.1" text-anchor="end" dy="0.38em" transform="rotate(-0.1 1417.03 1461.46)">Ubiq_conj</text>
<text x="1418.41" y="1389.69" font-size="28.1" text-anchor="end" dy="0.38em" transform="rotate(24.72 1418.41 1389.69)">Prot_protstre</text>
<text x="1461.68" y="1331.27" font-size="28.1" text-anchor="end" dy="0.38em" transform="rotate(49.55 1461.68 1331.27)">RNA_prot</text>
<text x="1527.79" y="1307.34" font-size="28.1" text-anchor="end" dy="0.38em" transform="rotate(74.38 1527.79 1307.34)">highest_mRNA</text>
<path d="M1656.2 1456.6L1881.4 1447.2L1877.8 1505.7L1655.2 1472Z" fill="#9AD898"/>
<text x="1883" y="1489.5" font-size="28.3" transform="rotate(6.6 1883 1489.5)">chaperonin</text>
<text x="1565.3" y="1380.87" font-size="28.3" text-anchor="middle">0</text>
<text x="1561.66" y="1349.17" font-size="28.3" text-anchor="middle">2</text>
<text x="1558.02" y="1317.47" font-size="28.3" text-anchor="middle">4</text>
<text x="1554.38" y="1285.77" font-size="28.3" text-anchor="middle">6</text>
<text x="1550.74" y="1254.07" font-size="28.3" text-anchor="middle">8</text>
<text x="1547.1" y="1222.37" font-size="28.3" text-anchor="middle">10</text>
<text x="1543.46" y="1190.67" font-size="28.3" text-anchor="middle">12</text>
<text x="1539.82" y="1158.97" font-size="28.3" text-anchor="middle">14</text>
<text x="1536.18" y="1127.27" font-size="28.3" text-anchor="middle">16</text>
<text x="1532.54" y="1095.57" font-size="28.3" text-anchor="middle">18</text>
<text x="1528.9" y="1063.87" font-size="28.3" text-anchor="middle">20</text>
<text x="1525.26" y="1032.17" font-size="28.3" text-anchor="middle">22</text>
<text x="1521.62" y="1000.47" font-size="28.3" text-anchor="middle">24</text>
<text x="1521.5" y="969" font-size="28.3" text-anchor="middle">-log10(pvalue)</text>
<text x="1577.6" y="1458.9" font-size="28.3" text-anchor="middle">Early ring</text>
<text x="1584.3" y="1492.6" font-size="28.3" text-anchor="middle">up</text>
<text x="1167" y="929.5" font-size="37" font-weight="bold">g</text>
<text x="144.6" y="1873.2" font-size="28.5">KEGG</text>
<rect x="146" y="1892.9" width="45.5" height="45" fill="#D0E6F0"/>
<text x="209.4" y="1924.83" font-size="28.5">Cytoadherence</text>
<rect x="146" y="1942.16" width="45.5" height="45" fill="#93BEDB"/>
<text x="209.4" y="1974.09" font-size="28.5">Gametocytogenesis</text>
<rect x="146" y="1991.42" width="45.5" height="45" fill="#D8F3C7"/>
<text x="209.4" y="2023.35" font-size="28.5">Other functional processes</text>
<rect x="146" y="2040.68" width="45.5" height="45" fill="#9AD898"/>
<text x="209.4" y="2072.61" font-size="28.5">Other organelles</text>
<rect x="146" y="2089.94" width="45.5" height="45" fill="#F3C6CC"/>
<text x="209.4" y="2121.87" font-size="28.5">Post−translational − Chaperones and protein structure modifications</text>
<rect x="146" y="2139.2" width="45.5" height="45" fill="#E5838B"/>
<text x="209.4" y="2171.13" font-size="28.5" fill="#2222CC">Post−translational − Other protein modifications</text>
<rect x="146" y="2188.46" width="45.5" height="45" fill="#F3DFB8"/>
<text x="209.4" y="2220.39" font-size="28.5" fill="#2222CC">Post−translational − Single amino acid modification</text>
<rect x="146" y="2237.72" width="45.5" height="45" fill="#EEB978"/>
<text x="209.4" y="2269.65" font-size="28.5">Protein Export</text>
<rect x="146" y="2286.98" width="45.5" height="45" fill="#DFD6EB"/>
<text x="209.4" y="2318.91" font-size="28.5">Redox Metabolism</text>
<rect x="146" y="2336.24" width="45.5" height="45" fill="#AF9BD1"/>
<text x="209.4" y="2368.17" font-size="28.5" fill="#2222CC">Transcription−&#160; Biogenesis of RNA</text>
<rect x="146" y="2385.5" width="45.5" height="45" fill="#F5FCD2"/>
<text x="209.4" y="2417.43" font-size="28.5">Transcription − RNA modification and degradation</text>
<rect x="146" y="2434.76" width="45.5" height="45" fill="#D2A78F"/>
<text x="209.4" y="2466.69" font-size="28.5">Translation</text>
<text x="1298.3" y="1891.1" font-size="28.5">KEGG</text>
<rect x="1298.8" y="1911.9" width="45.5" height="45" fill="#D0E6F0"/>
<text x="1362.8" y="1943.83" font-size="28.5">Chromosome structure (Mitosis and Chromosome Separation)</text>
<rect x="1298.8" y="1961.2" width="45.5" height="45" fill="#93BEDB"/>
<text x="1362.8" y="1993.13" font-size="28.5">Invasion</text>
<rect x="1298.8" y="2010.5" width="45.5" height="45" fill="#D8F3C7"/>
<text x="1362.8" y="2042.43" font-size="28.5">Other organelles</text>
<rect x="1298.8" y="2059.8" width="45.5" height="45" fill="#9AD898"/>
<text x="1362.8" y="2091.73" font-size="28.5">Post−translational − Chaperones and protein structure modifications</text>
<rect x="1298.8" y="2109.1" width="45.5" height="45" fill="#F3C6CC"/>
<text x="1362.8" y="2141.03" font-size="28.5" fill="#2222CC">Post−translational − Other protein modifications</text>
<rect x="1298.8" y="2158.4" width="45.5" height="45" fill="#E5838B"/>
<text x="1362.8" y="2190.33" font-size="28.5" fill="#2222CC">Post−translational − Single amino acid modification</text>
<rect x="1298.8" y="2207.7" width="45.5" height="45" fill="#F3DFB8"/>
<text x="1362.8" y="2239.63" font-size="28.5">Post−translational − Ubiquitin−dependent processes</text>
<rect x="1298.8" y="2257" width="45.5" height="45" fill="#EEB978"/>
<text x="1362.8" y="2288.93" font-size="28.5">Replication</text>
<rect x="1298.8" y="2306.3" width="45.5" height="45" fill="#DFD6EB"/>
<text x="1362.8" y="2338.23" font-size="28.5">Transcription−&#160; Biogenesis of RNA</text>
<rect x="1298.8" y="2355.6" width="45.5" height="45" fill="#AF9BD1"/>
<text x="1362.8" y="2387.53" font-size="28.5">Transcription − RNA modification and degradation</text>
</svg>
</body></html>
